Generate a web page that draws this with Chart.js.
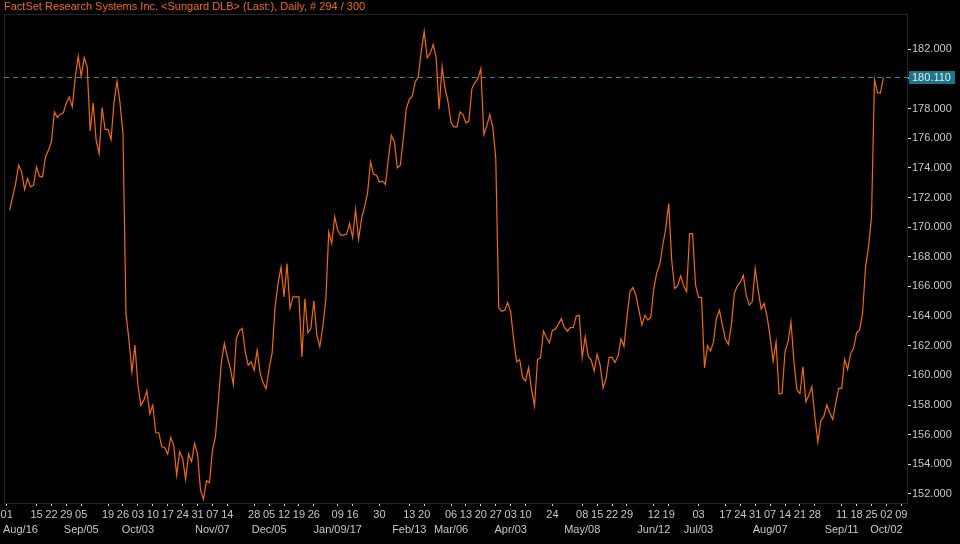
<!DOCTYPE html>
<html>
<head>
<meta charset="utf-8">
<script src="https://cdn.jsdelivr.net/npm/chart.js@4.4.0/dist/chart.umd.min.js"></script>
<style>
  html, body { margin: 0; padding: 0; background: #000; }
  canvas { display: block; }
</style>
</head>
<body>
<canvas id="myChart" width="960" height="544"></canvas>
<script>
const titleText = 'FactSet Research Systems Inc. <Sungard DLB> (Last:), Daily, # 294 / 300';

// daily closes, one per trading day from 01 Aug 2016
const prices = [
  171.14, 172.04, 172.94, 174.18, 173.73, 172.54, 173.28, 172.72, 172.83, 174.06,
  173.44, 173.39, 174.74, 175.19, 175.75, 177.77, 177.39, 177.62, 177.71, 178.38,
  178.79, 178.11, 180.13, 181.53, 180.18, 181.44, 180.81, 176.49, 178.38, 175.86,
  174.97, 178.07, 176.59, 176.59, 175.91, 178.45, 179.84, 178.38, 176.31, 164.18,
  162.38, 160.24, 162.04, 159.34, 157.99, 158.33, 158.96, 157.39, 157.99, 156.13,
  156.13, 155.18, 155.14, 154.69, 155.81, 155.30, 153.27, 154.85, 154.40, 152.99,
  154.69, 154.17, 155.41, 154.69, 152.26, 151.64, 152.89, 152.76, 154.96, 155.86,
  158.33, 160.91, 162.15, 161.25, 160.47, 159.39, 162.49, 163.00, 163.17, 161.59,
  160.69, 160.91, 160.35, 161.70, 160.13, 159.50, 159.10, 160.47, 161.48, 164.62,
  166.20, 167.32, 165.30, 167.55, 164.51, 165.30, 165.30, 165.30, 161.25, 165.19,
  162.87, 163.17, 165.03, 162.72, 161.93, 163.28, 165.07, 169.68, 168.90, 170.69,
  169.79, 169.46, 169.46, 169.53, 170.25, 169.30, 171.19, 169.17, 170.58, 171.37,
  172.27, 174.40, 173.57, 173.50, 173.05, 173.10, 172.88, 174.63, 176.20, 175.75,
  174.00, 174.18, 175.98, 178.00, 178.63, 178.85, 179.80, 180.13, 181.82, 183.21,
  181.44, 181.71, 182.32, 181.48, 177.95, 180.81, 179.35, 178.45, 177.06, 176.76,
  176.76, 177.77, 177.60, 177.03, 177.14, 179.35, 179.75, 180.02, 180.70, 176.25,
  176.83, 177.60, 176.76, 174.63, 164.56, 164.33, 164.40, 164.92, 164.29, 162.43,
  160.91, 161.07, 159.86, 159.61, 160.53, 159.05, 157.93, 161.07, 161.18, 163.00,
  162.56, 162.20, 163.05, 163.12, 163.46, 163.84, 163.23, 162.98, 163.23, 163.23,
  164.00, 164.04, 161.21, 162.60, 161.30, 161.03, 160.29, 161.43, 160.69, 159.16,
  159.79, 161.21, 161.21, 160.87, 161.30, 162.47, 161.97, 163.95, 165.64, 165.93,
  165.41, 164.40, 163.39, 164.06, 163.73, 163.93, 165.86, 166.94, 167.48, 168.78,
  169.91, 171.59, 167.77, 165.86, 166.04, 166.71, 166.04, 165.64, 169.57, 169.57,
  166.09, 165.26, 165.26, 160.51, 161.99, 161.64, 162.26, 163.84, 164.40, 163.39,
  162.44, 162.09, 163.39, 165.53, 166.04, 166.27, 166.76, 165.41, 164.74, 164.96,
  167.21, 165.75, 164.47, 164.85, 163.95, 162.60, 160.96, 162.26, 158.74, 158.78,
  161.59, 162.26, 163.61, 160.91, 159.01, 158.78, 160.58, 158.22, 158.67, 159.23,
  157.21, 155.50, 156.94, 157.21, 158.00, 157.48, 157.03, 158.11, 159.12, 159.12,
  161.07, 160.40, 161.48, 161.82, 162.87, 163.05, 164.18, 167.32, 168.67, 170.69,
  179.96, 179.06, 179.06, 180.11
];

// weekly x ticks: trading day index of the week, day label, month label
const tickIdx = [0, 10, 15, 20, 25, 34, 39, 44, 49, 54, 59, 64, 69, 74, 83, 88, 93, 98, 103,
  111, 116, 125, 135, 140, 149, 154, 159, 164, 169, 174, 183, 193, 198, 203, 208,
  217, 222, 232, 241, 246, 251, 256, 261, 266, 271, 280, 285, 290, 295, 300];
const tickDays = ['01', '15', '22', '29', '05', '19', '26', '03', '10', '17', '24', '31', '07', '14', '28', '05', '12', '19', '26',
  '09', '16', '30', '13', '20', '06', '13', '20', '27', '03', '10', '24', '08', '15', '22', '29',
  '12', '19', '03', '17', '24', '31', '07', '14', '21', '28', '11', '18', '25', '02', '09'];
const tickMonths = ['Aug/16', '', '', '', 'Sep/05', '', '', 'Oct/03', '', '', '', '', 'Nov/07', '', '', 'Dec/05', '', '', '',
  'Jan/09/17', '', '', 'Feb/13', '', 'Mar/06', '', '', '', 'Apr/03', '', '', 'May/08', '', '', '',
  'Jun/12', '', 'Jul/03', '', '', '', 'Aug/07', '', '', '', 'Sep/11', '', '', 'Oct/02', ''];

const yTicks = [152, 154, 156, 158, 160, 162, 164, 166, 168, 170, 172, 174, 176, 178, 180, 182];

const lineColor = '#f26a0c';
const textColor = '#c6c6c6';
const tealColor = '#1c7687';
const lastValue = prices[prices.length - 1];
const labelFont = { family: "'Liberation Sans', Arial, sans-serif", size: 11, lineHeight: 1.35 };

const framePlugin = {
  id: 'frame',
  beforeDraw(chart) {
    const c = chart.ctx;
    c.save();
    c.fillStyle = '#000';
    c.fillRect(0, 0, chart.width, chart.height);
    c.restore();
  },
  beforeDatasetsDraw(chart) {
    const c = chart.ctx, a = chart.chartArea;
    const y = Math.round(chart.scales.y.getPixelForValue(lastValue)) + 0.5;
    c.save();
    c.strokeStyle = '#262626';
    c.lineWidth = 1;
    c.strokeRect(Math.round(a.left) + 0.5, Math.round(a.top) + 0.5, Math.round(a.right - a.left), Math.round(a.bottom - a.top));
    c.strokeStyle = '#2a8496';
    c.setLineDash([5, 4]);
    c.beginPath();
    c.moveTo(a.left, y);
    c.lineTo(a.right + 3, y);
    c.stroke();
    c.restore();
  },
  afterDraw(chart) {
    const c = chart.ctx, a = chart.chartArea;
    const y = chart.scales.y.getPixelForValue(lastValue);
    c.save();
    c.fillStyle = tealColor;
    c.fillRect(a.right + 2, Math.round(y) - 6, 46, 13);
    c.fillStyle = '#e6e6e6';
    c.font = "11px 'Liberation Sans', Arial, sans-serif";
    c.textBaseline = 'middle';
    c.fillText(lastValue.toFixed(3), a.right + 5, Math.round(y) + 0.5);
    c.restore();
  }
};

const ctx = document.getElementById('myChart').getContext('2d');
const myChart = new Chart(ctx, {
  type: 'line',
  data: {
    datasets: [{
      data: prices.map((v, i) => ({ x: i, y: v })),
      borderColor: lineColor,
      borderWidth: 1.2,
      pointRadius: 0,
      tension: 0,
      fill: false
    }]
  },
  options: {
    responsive: false,
    animation: false,
    layout: { padding: { left: 4, top: 0, right: 0, bottom: 0 } },
    plugins: {
      legend: { display: false },
      tooltip: { enabled: false },
      title: {
        display: true,
        text: titleText,
        align: 'start',
        color: lineColor,
        font: { family: "'Liberation Sans', Arial, sans-serif", size: 11, weight: 'normal', lineHeight: 1.3 },
        padding: { top: 0, bottom: 0 }
      }
    },
    scales: {
      x: {
        type: 'linear',
        min: -1.9,
        max: 300.9,
        afterBuildTicks: s => { s.ticks = tickIdx.map(v => ({ value: v - 1 })); },
        afterFit: s => { s.height = 41; s.paddingLeft = 0; s.paddingRight = 0; },
        ticks: {
          autoSkip: false,
          maxRotation: 0,
          color: textColor,
          font: labelFont,
          padding: 2,
          // the first month label sits against the left edge, as in the original
          callback: (v, i) => [tickDays[i], i === 0 ? '\u00a0\u00a0\u00a0\u00a0\u00a0\u00a0\u00a0\u00a0\u00a0' + tickMonths[i] : tickMonths[i]]
        },
        grid: { drawOnChartArea: false, drawTicks: true, tickLength: 3, tickColor: '#cfcfcf' },
        border: { display: false }
      },
      y: {
        position: 'right',
        min: 151.39,
        max: 184.36,
        afterBuildTicks: s => { s.ticks = yTicks.map(v => ({ value: v })); },
        afterFit: s => { s.width = 53; s.paddingTop = 0; s.paddingBottom = 0; },
        ticks: {
          color: textColor,
          font: labelFont,
          padding: 1,
          callback: v => v.toFixed(3)
        },
        grid: { drawOnChartArea: false, drawTicks: true, tickLength: 4, tickColor: '#dcdcdc' },
        border: { display: false }
      }
    }
  },
  plugins: [framePlugin]
});
</script>
</body>
</html>
